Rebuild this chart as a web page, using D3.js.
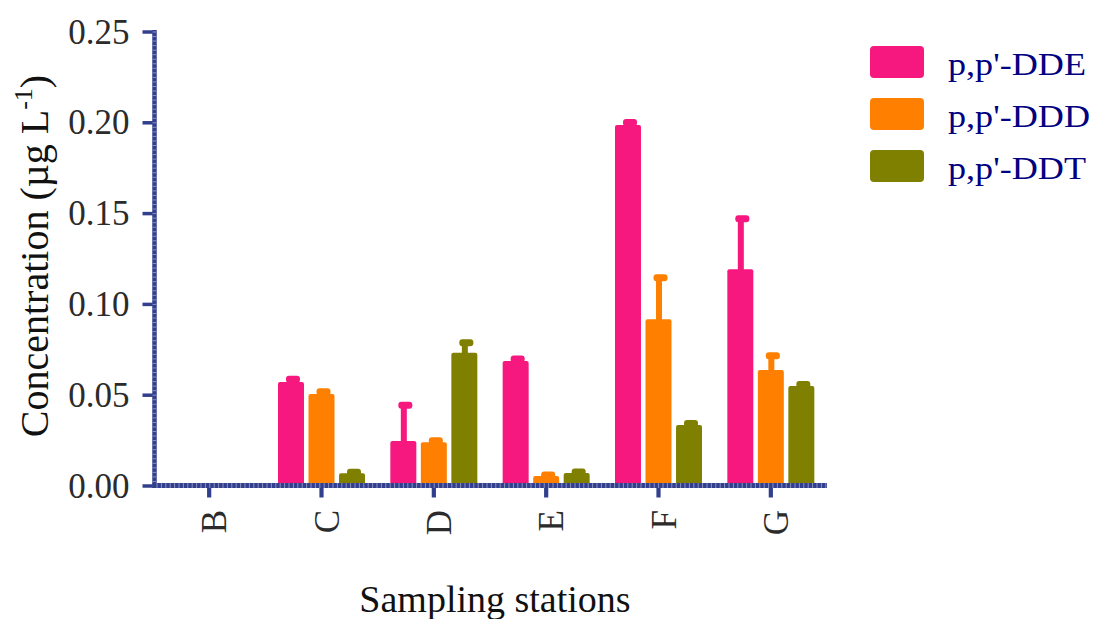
<!DOCTYPE html>
<html>
<head>
<meta charset="utf-8">
<script src="https://cdn.jsdelivr.net/npm/d3@7"></script>
<style>
  html, body { margin: 0; padding: 0; background: #ffffff; }
  svg { display: block; }
</style>
</head>
<body>
<svg id="chart" width="1096" height="619"></svg>
<script>
// Sampling stations and DDT-group compounds
const stations = ["B", "C", "D", "E", "F", "G"];
const compounds = ["p,p'-DDE", "p,p'-DDD", "p,p'-DDT"];

// Mean concentrations (µg/L), one array per compound, ordered by station
const ddeMean = [0, 0.0570, 0.0245, 0.0686, 0.1985, 0.1191];
const dddMean = [0, 0.0504, 0.0238, 0.0052, 0.0915, 0.0636];
const ddtMean = [0, 0.0067, 0.0731, 0.0069, 0.0333, 0.0548];

// Standard deviations (upper error bars)
const ddeSd = [0, 0.0015, 0.0197, 0.0010, 0.0014, 0.0278];
const dddSd = [0, 0.0012, 0.0008, 0.0006, 0.0229, 0.0078];
const ddtSd = [0, 0.0006, 0.0055, 0.0006, 0.0008, 0.0008];

const yTicks = [0, 0.05, 0.10, 0.15, 0.20, 0.25];
const colors = ["#f6177f", "#ff7f00", "#808000"];

const means = [ddeMean, dddMean, ddtMean];
const sds = [ddeSd, dddSd, ddtSd];

const rows = [];
stations.forEach((s, i) => {
  compounds.forEach((c, j) => {
    rows.push({ station: s, compound: c, mean: means[j][i], sd: sds[j][i] });
  });
});

const svg = d3.select("#chart");
const axisColor = "#323f8c";
const minorColor = "#8a91c2";
const serif = "'Liberation Serif', 'Times New Roman', serif";
const plotLeft = 154.5, plotRight = 827, plotTop = 31.5, plotBottom = 485.5;

const x0 = d3.scaleBand().domain(stations).range([153, plotRight]).padding(0);
const x1 = d3.scaleBand().domain(compounds).range([0, x0.bandwidth()])
  .paddingInner(0.148).paddingOuter(0.415);
const y = d3.scaleLinear().domain([0, 0.25]).range([plotBottom, plotTop]);
const color = d3.scaleOrdinal().domain(compounds).range(colors);

// Bars
const bars = svg.append("g");
bars.selectAll("rect")
  .data(rows.filter(d => d.mean > 0))
  .join("rect")
  .attr("x", d => x0(d.station) + x1(d.compound))
  .attr("width", x1.bandwidth())
  .attr("y", d => y(d.mean))
  .attr("height", d => y(0) - y(d.mean))
  .attr("rx", 2)
  .attr("fill", d => color(d.compound));

// Upper error bars: stem plus cap
const err = svg.append("g");
rows.filter(d => d.mean > 0).forEach(d => {
  const cx = x0(d.station) + x1(d.compound) + x1.bandwidth() / 2 + 0.5;
  const yTop = y(d.mean + d.sd);
  const yBar = y(d.mean);
  if (yBar - yTop > 0.5) {
    err.append("rect")
      .attr("x", cx - 3).attr("width", 6)
      .attr("y", yTop).attr("height", yBar - yTop + 1)
      .attr("fill", color(d.compound));
  }
  err.append("rect")
    .attr("x", cx - 5.5).attr("width", 14)
    .attr("y", yTop - 3.5).attr("height", 7)
    .attr("rx", 3)
    .attr("fill", color(d.compound));
});

// Y axis
const yAxis = svg.append("g").attr("transform", `translate(${plotLeft},0)`)
  .call(d3.axisLeft(y).tickValues(yTicks).tickSize(12).tickPadding(13)
    .tickFormat(d3.format(".2f")));
yAxis.select(".domain").remove();
yAxis.selectAll(".tick line").attr("stroke", axisColor).attr("stroke-width", 3.5);
yAxis.selectAll(".tick text")
  .attr("font-family", serif)
  .attr("font-size", 35).attr("fill", "#2b2b2b").attr("dy", "0.33em");
svg.append("line")
  .attr("x1", plotLeft).attr("x2", plotLeft)
  .attr("y1", plotTop - 1.5).attr("y2", plotBottom + 2.5)
  .attr("stroke", axisColor).attr("stroke-width", 4.5);
// minor ticks along the y axis
svg.append("g").selectAll("line")
  .data(d3.range(0, 0.2501, 0.0025))
  .join("line")
  .attr("x1", plotLeft - 2).attr("x2", plotLeft + 2)
  .attr("y1", d => y(d) + 0.5).attr("y2", d => y(d) + 0.5)
  .attr("stroke", minorColor).attr("stroke-width", 1);

// X axis
const xAxis = svg.append("g").attr("transform", `translate(0,${plotBottom})`)
  .call(d3.axisBottom(x0).tickSize(12).tickFormat(""));
xAxis.select(".domain").remove();
xAxis.selectAll(".tick line").attr("stroke", axisColor).attr("stroke-width", 4.2);
svg.append("line")
  .attr("x1", 152.5).attr("x2", plotRight)
  .attr("y1", plotBottom).attr("y2", plotBottom)
  .attr("stroke", axisColor).attr("stroke-width", 5);
svg.append("g").selectAll("line")
  .data(d3.range(157, 826, 4.4))
  .join("line")
  .attr("x1", d => d).attr("x2", d => d)
  .attr("y1", plotBottom - 2.5).attr("y2", plotBottom + 2.5)
  .attr("stroke", minorColor).attr("stroke-width", 1);

// Rotated station labels
svg.append("g").selectAll("text")
  .data(stations)
  .join("text")
  .attr("transform", d => `translate(${x0(d) + x0.bandwidth() / 2 + 17},510) rotate(-90)`)
  .attr("text-anchor", "end")
  .attr("font-family", serif)
  .attr("font-size", 35).attr("fill", "#2b2b2b")
  .text(d => d);

// Axis titles
svg.append("text")
  .attr("x", 495).attr("y", 612)
  .attr("text-anchor", "middle")
  .attr("font-family", serif)
  .attr("font-size", 38).attr("fill", "#111")
  .text("Sampling stations");

const yTitle = svg.append("text")
  .attr("transform", "translate(48,256) rotate(-90)")
  .attr("text-anchor", "middle")
  .attr("font-family", serif)
  .attr("font-size", 40).attr("fill", "#111");
yTitle.append("tspan").text("Concentration (µg L");
yTitle.append("tspan").attr("font-size", 26).attr("dy", -16).text("-1");
yTitle.append("tspan").attr("dy", 16).text(")");

// Legend
const legend = svg.append("g");
compounds.forEach((c, i) => {
  const g = legend.append("g").attr("transform", `translate(870,${46 + i * 52})`);
  g.append("rect").attr("width", 54).attr("height", 32).attr("rx", 4)
    .attr("fill", color(c));
  g.append("text")
    .attr("transform", "translate(78,29) scale(1.13,1)")
    .attr("font-family", serif)
    .attr("font-size", 32).attr("fill", "#000080")
    .text(c);
});
</script>
</body>
</html>
